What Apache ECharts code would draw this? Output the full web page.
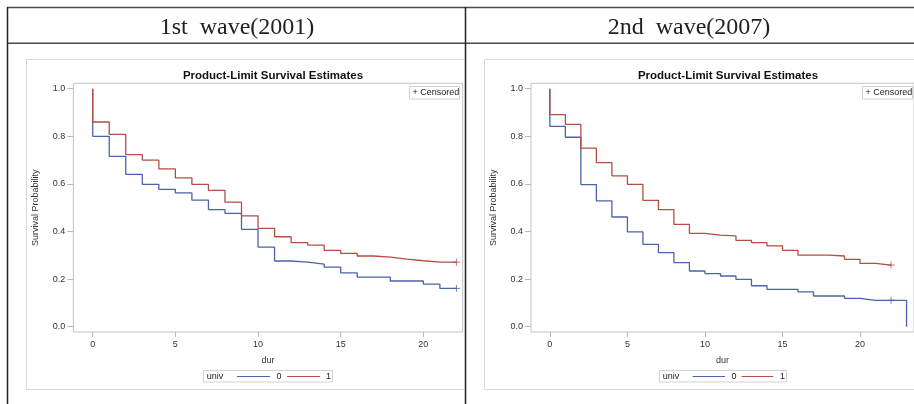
<!DOCTYPE html>
<html><head><meta charset="utf-8">
<script src="https://cdn.jsdelivr.net/npm/echarts@6/dist/echarts.min.js"></script>
<style>html,body{margin:0;padding:0;background:#fff}#c{width:914px;height:404px}</style>
</head><body><div id="c"></div>
<script>
// ---- data ----
const panelTitles = ['1st  wave(2001)', '2nd  wave(2007)'];
const plotTitle = 'Product-Limit Survival Estimates';
const xAxisName = 'dur';
const yAxisName = 'Survival Probability';
const groupLabels = ['0', '1'];
const xTicks = [0, 5, 10, 15, 20];
const yTicks = [0, 0.2, 0.4, 0.6, 0.8, 1.0];

// 1st wave (2001)
const w1Times = [0,1,2,3,4,5,6,7,8,9,10,11,12,13,14,15,16,17,18,19,20,21,22];
const w1Univ0 = [0.800,0.716,0.640,0.598,0.577,0.562,0.532,0.492,0.476,0.409,0.334,0.276,0.271,0.263,0.250,0.226,0.208,0.208,0.192,0.192,0.179,0.161,0.161];
const w1Univ1 = [0.860,0.808,0.723,0.700,0.663,0.625,0.598,0.573,0.523,0.466,0.413,0.378,0.353,0.343,0.321,0.308,0.297,0.292,0.284,0.277,0.271,0.271,0.271];
const w1Censor0 = [22];
const w1Censor1 = [22];

// 2nd wave (2007)
const w2Times0 = [0,1,2,3,4,5,6,7,8,9,10,11,12,13,14,15,16,17,18,19,20,21,22,23];
const w2Univ0 = [0.842,0.796,0.597,0.529,0.461,0.398,0.346,0.311,0.269,0.234,0.223,0.213,0.199,0.172,0.157,0.157,0.146,0.129,0.129,0.119,0.111,0.111,0.111,0.000];
const w2Times1 = [0,1,2,3,4,5,6,7,8,9,10,11,12,13,14,15,16,17,18,19,20,21,22];
const w2Univ1 = [0.891,0.850,0.750,0.689,0.634,0.598,0.531,0.492,0.430,0.392,0.385,0.382,0.363,0.353,0.340,0.321,0.301,0.301,0.297,0.283,0.266,0.259,0.259];
const w2Censor0 = [22];
const w2Censor1 = [22];

// ---- build ----
const C0 = '#4d62a8', C1 = '#b34e43';
const FONT = '"Liberation Sans", Arial, sans-serif';
function km(times, vals) { return [[0, 1]].concat(times.map((t, i) => [t, vals[i]])); }
function survAt(times, vals, t) { let v = 1; times.forEach((tt, i) => { if (tt <= t) v = vals[i]; }); return v; }
function censorPts(times, vals, cs) { return cs.map(t => [t, survAt(times, vals, t)]); }

const grids = [
  { left: 73.3, top: 83.3, width: 389.4, height: 248.7 },
  { left: 531, top: 83.3, width: 386, height: 248.7 }
];
const xRanges = [[-1.174, 22.38], [-1.216, 23.48]];

function lineSeries(data, color, idx) {
  return { type: 'line', step: 'end', data, xAxisIndex: idx, yAxisIndex: idx, showSymbol: false,
    lineStyle: { color, width: 1.3 }, itemStyle: { color }, animation: false, silent: true, z: 3 };
}
function censorSeries(data, color, idx) {
  return { type: 'scatter', data, xAxisIndex: idx, yAxisIndex: idx, symbol: 'path://M5,0V10M0,5H10', symbolSize: 7,
    itemStyle: { color: 'none', borderColor: color, borderWidth: 1 }, animation: false, silent: true, z: 4 };
}

const series = [
  lineSeries(km(w1Times, w1Univ0), C0, 0),
  lineSeries(km(w1Times, w1Univ1), C1, 0),
  censorSeries(censorPts(w1Times, w1Univ0, w1Censor0), C0, 0),
  censorSeries(censorPts(w1Times, w1Univ1, w1Censor1), C1, 0),
  lineSeries(km(w2Times0, w2Univ0), C0, 1),
  lineSeries(km(w2Times1, w2Univ1), C1, 1),
  censorSeries(censorPts(w2Times0, w2Univ0, w2Censor0), C0, 1),
  censorSeries(censorPts(w2Times1, w2Univ1, w2Censor1), C1, 1)
];

const xAxes = grids.map((g, i) => ({
  type: 'value', gridIndex: i, min: xRanges[i][0], max: xRanges[i][1], position: 'bottom',
  name: xAxisName, nameLocation: 'middle', nameGap: 24,
  nameTextStyle: { fontFamily: FONT, fontSize: 9, color: '#333' },
  axisLine: { show: false, onZero: false }, splitLine: { show: false },
  axisTick: { show: true, length: 5, customValues: xTicks, lineStyle: { color: '#b8b8b8' } },
  axisLabel: { customValues: xTicks, margin: 8, fontFamily: FONT, fontSize: 9, color: '#333' }
}));
const yAxes = grids.map((g, i) => ({
  type: 'value', gridIndex: i, min: -0.0223, max: 1.0227, position: 'left',
  name: yAxisName, nameLocation: 'middle', nameGap: 33, nameRotate: 90,
  nameTextStyle: { fontFamily: FONT, fontSize: 9, color: '#333' },
  axisLine: { show: false, onZero: false }, splitLine: { show: false },
  axisTick: { show: true, length: 6, customValues: yTicks, lineStyle: { color: '#b8b8b8' } },
  axisLabel: { customValues: yTicks, margin: 8, fontFamily: FONT, fontSize: 9, color: '#333',
    formatter: v => v.toFixed(1) }
}));

function txt(text, x, y, font, align, extra) {
  return Object.assign({ type: 'text', silent: true, z: 20,
    style: { text, x, y, font, fill: '#222', align: align || 'left', textAlign: align || 'left',
      verticalAlign: 'middle', textVerticalAlign: 'middle' } }, extra || {});
}
function ln(x1, y1, x2, y2, stroke, w) {
  return { type: 'line', silent: true, z: 30, shape: { x1, y1, x2, y2 }, style: { stroke, lineWidth: w } };
}
function poly(points, stroke) {
  return { type: 'polyline', silent: true, z: 1, shape: { points }, style: { stroke, lineWidth: 1, fill: null } };
}
function box(x, y, w, h) {
  return { type: 'rect', silent: true, z: 10, shape: { x, y, width: w, height: h }, style: { stroke: '#d2d2d2', lineWidth: 1, fill: '#fff' } };
}

const HFONT = '24px "Liberation Serif", "Times New Roman", serif';
const graphic = [
  // table lines
  ln(7, 7.5, 914, 7.5, '#4a4a4a', 1.5),
  ln(7, 43.2, 914, 43.2, '#4a4a4a', 1.5),
  ln(7.5, 7, 7.5, 404, '#222', 1.5),
  ln(465.5, 7, 465.5, 404, '#222', 1.5),
  txt(panelTitles[0], 237, 28, HFONT, 'center'),
  txt(panelTitles[1], 689, 28, HFONT, 'center'),
  // outer chart frames
  poly([[464, 59.5], [26.5, 59.5], [26.5, 389.5], [464, 389.5]], '#d8d8d8'),
  poly([[916, 59.5], [484.5, 59.5], [484.5, 389.5], [916, 389.5]], '#d8d8d8'),
  // censored boxes
  box(409.5, 86.5, 50, 12.5), txt('+ Censored', 412.5, 93, '9px ' + FONT, 'left'),
  box(862.5, 86.5, 50, 12.5), txt('+ Censored', 865.5, 93, '9px ' + FONT, 'left'),
  // legends
  box(203.5, 370.5, 129, 11.5), txt('univ', 206.7, 376.5, '9px ' + FONT, 'left'),
  ln(237, 376.5, 270, 376.5, C0, 1.2), txt(groupLabels[0], 276.5, 376.5, '9px ' + FONT, 'left'),
  ln(287, 376.5, 320, 376.5, C1, 1.2), txt(groupLabels[1], 326, 376.5, '9px ' + FONT, 'left'),
  box(659.5, 370.5, 127, 11.5), txt('univ', 662.7, 376.5, '9px ' + FONT, 'left'),
  ln(692.7, 376.5, 725, 376.5, C0, 1.2), txt(groupLabels[0], 731.5, 376.5, '9px ' + FONT, 'left'),
  ln(741.7, 376.5, 773.3, 376.5, C1, 1.2), txt(groupLabels[1], 780, 376.5, '9px ' + FONT, 'left')
];

const chart = echarts.init(document.getElementById('c'), null, { renderer: 'canvas' });
chart.setOption({
  animation: false,
  backgroundColor: '#fff',
  title: [
    { text: plotTitle, left: 268, top: 64.5, textAlign: 'center',
      textStyle: { fontFamily: FONT, fontSize: 11.5, fontWeight: 'bold', color: '#111' } },
    { text: plotTitle, left: 723, top: 64.5, textAlign: 'center',
      textStyle: { fontFamily: FONT, fontSize: 11.5, fontWeight: 'bold', color: '#111' } }
  ],
  grid: grids.map(g => Object.assign({ show: true, borderColor: '#c4c4c4', borderWidth: 1, backgroundColor: '#fff' }, g)),
  xAxis: xAxes,
  yAxis: yAxes,
  series,
  graphic
});
</script></body></html>
